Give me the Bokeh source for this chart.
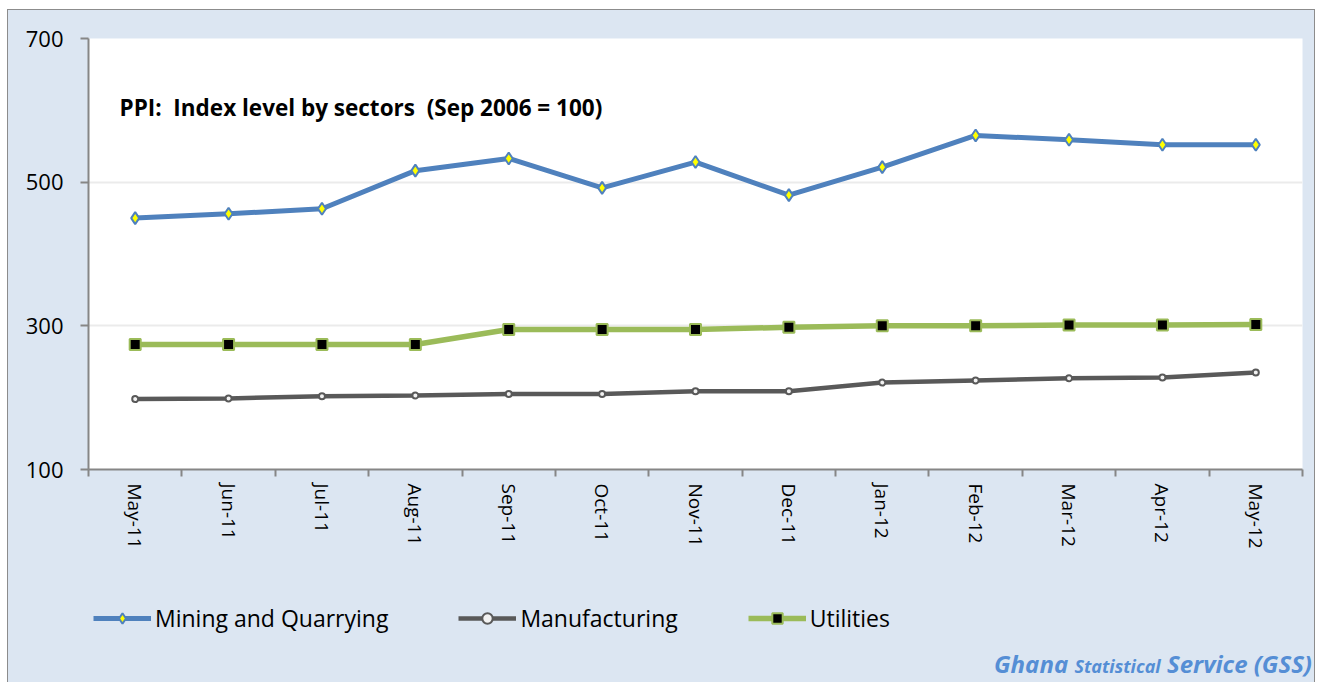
from bokeh.plotting import figure
from bokeh.layouts import column
from bokeh.models import (Range1d, FixedTicker, CustomJSTickFormatter, Legend,
                          LegendItem, Label, Div)
from bokeh.embed import file_html
from bokeh.resources import INLINE

# ---- data ----
months = ["May-11", "Jun-11", "Jul-11", "Aug-11", "Sep-11", "Oct-11", "Nov-11",
          "Dec-11", "Jan-12", "Feb-12", "Mar-12", "Apr-12", "May-12"]
mining = [450, 456, 463, 516, 533, 492, 528, 482, 521, 565, 559, 552, 552]
manufacturing = [198, 199, 202, 203, 205, 205, 209, 209, 221, 224, 227, 228, 235]
utilities = [274, 274, 274, 274, 295, 295, 295, 298, 300, 300, 301, 301, 302]
y_ticks = [100, 300, 500, 700]
series_names = ["Mining and Quarrying", "Manufacturing", "Utilities"]
chart_title = "PPI:\u00a0 Index level by sectors\u00a0 (Sep 2006 = 100)"
source_words = ["Ghana", "Statistical", "Service (GSS)"]

x = [i + 0.5 for i in range(len(months))]
bounds = list(range(len(months) + 1))

FONT = "Open Sans"
AXIS_C = "#868686"
BG = "#DCE6F2"
BORDER = "1px solid #8C8C8C"
C_MIN, C_MAN, C_UTI = "#4F81BD", "#595959", "#9BBB59"

# ================= main chart =================
p = figure(frame_width=1212, frame_height=430, output_backend="svg",
           toolbar_location=None, x_range=Range1d(0, len(months)),
           y_range=Range1d(100, 700),
           min_border_left=80, min_border_top=28, min_border_right=14,
           min_border_bottom=90)
p.styles = {"border-top": BORDER, "border-left": BORDER, "border-right": BORDER,
            "background-color": BG}
p.border_fill_color = BG
p.background_fill_color = "white"
p.outline_line_color = None

p.yaxis.ticker = FixedTicker(ticks=y_ticks)
p.yaxis.axis_line_color = AXIS_C
p.yaxis.axis_line_width = 2
p.yaxis.major_tick_line_color = AXIS_C
p.yaxis.major_tick_line_width = 2
p.yaxis.major_tick_out = 8
p.yaxis.major_tick_in = 0
p.yaxis.minor_tick_line_color = None
p.yaxis.major_label_standoff = 17
p.yaxis.major_label_text_font = FONT
p.yaxis.major_label_text_font_size = "22px"
p.yaxis.major_label_text_color = "black"

p.xaxis.ticker = FixedTicker(ticks=x, minor_ticks=bounds)
p.xaxis.formatter = CustomJSTickFormatter(args=dict(labels=months),
                                          code="return labels[Math.floor(tick)];")
p.xaxis.axis_line_color = AXIS_C
p.xaxis.axis_line_width = 2
p.xaxis.major_tick_line_color = None
p.xaxis.major_tick_out = 0
p.xaxis.major_tick_in = 0
p.xaxis.minor_tick_line_color = AXIS_C
p.xaxis.minor_tick_line_width = 2
p.xaxis.minor_tick_out = 7
p.xaxis.minor_tick_in = 0
p.xaxis.major_label_orientation = "vertical"
p.xaxis.major_label_standoff = 7
p.xaxis.major_label_text_font = FONT
p.xaxis.major_label_text_font_size = "19px"
p.xaxis.major_label_text_color = "black"

p.xgrid.grid_line_color = None
p.ygrid.ticker = FixedTicker(ticks=y_ticks)
p.ygrid.grid_line_color = "#EBEBEB"
p.ygrid.grid_line_width = 2

STY = [
    (dict(line_color=C_MIN, line_width=5),
     dict(marker="diamond", size=12, fill_color="#FFFF00", line_color=C_MIN, line_width=2)),
    (dict(line_color=C_MAN, line_width=4.5),
     dict(marker="circle", size=6, fill_color="#F2F2F2", line_color=C_MAN, line_width=2)),
    (dict(line_color=C_UTI, line_width=5.5),
     dict(marker="square", size=11, fill_color="black", line_color=C_UTI, line_width=2)),
]
series = [mining, manufacturing, utilities]
for ys, (ls, ms) in zip(series, STY):
    p.line(x, ys, **ls)
    p.scatter(x, ys, **ms)

p.add_layout(Label(x=0.3325, y=603.8, text=chart_title,
                   text_font=FONT, text_font_style="bold", text_font_size="22.5px",
                   text_baseline="alphabetic", text_color="black"))

# ================= legend strip =================
H2 = 92
q = figure(frame_width=1212, frame_height=H2, output_backend="svg",
           toolbar_location=None, x_range=Range1d(0, 1), y_range=Range1d(0, 1),
           x_axis_location=None, y_axis_location=None,
           min_border_left=80, min_border_right=14,
           min_border_top=0, min_border_bottom=0)
q.styles = {"border-left": BORDER, "border-right": BORDER, "background-color": BG}
q.grid.visible = False
q.background_fill_color = BG
q.border_fill_color = BG
q.outline_line_color = None

items = []
for name, ys, (ls, ms) in zip(series_names, series, STY):
    r1 = q.line(x, ys, visible=False, **ls)
    r2 = q.scatter(x, ys, visible=False, **ms)
    items.append(LegendItem(label=name, renderers=[r1, r2]))

legend = Legend(items=items, orientation="horizontal", location=(5, 16))
legend.background_fill_alpha = 0
legend.border_line_color = None
legend.padding = 0
legend.margin = 0
legend.spacing = 70
legend.glyph_width = 58
legend.glyph_height = 26
legend.label_height = 26
legend.label_standoff = 4
legend.label_text_font = FONT
legend.label_text_font_size = "23px"
legend.label_text_color = "black"
q.add_layout(legend, "center")

# ================= source line =================
FOOT_C = "#558ED5"
footer_html = (
    '<div style="box-sizing:border-box;width:1308px;height:32px;'
    'background:#DCE6F2;border-left:1px solid #8C8C8C;border-right:1px solid #8C8C8C;'
    'text-align:right;padding-right:2px;font-family:\'Open Sans\';font-weight:bold;'
    'font-style:italic;color:' + FOOT_C + ';font-size:24px;line-height:27px;white-space:nowrap;">'
    + source_words[0] + ' <span style="font-size:18px">' + source_words[1] + '</span> '
    + source_words[2] + '</div>'
)
footer = Div(text=footer_html, width=1308, height=32, margin=0)

layout = column(p, q, footer, spacing=0,
                styles={"margin-left": "7px", "margin-top": "9px"})

open("out.html", "w").write(file_html(layout, INLINE))
